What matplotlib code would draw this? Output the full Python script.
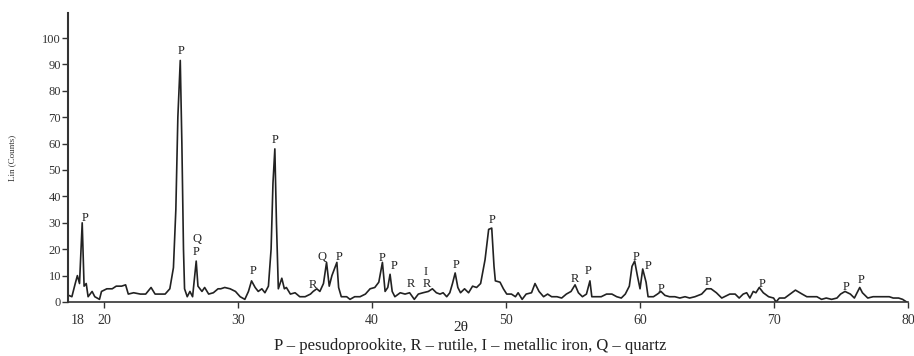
import matplotlib.pyplot as plt

two_theta = [17.31, 17.59, 17.84, 18.0, 18.16, 18.36, 18.5, 18.66, 18.8, 19.1, 19.3, 19.65, 19.8,
             20.2, 20.6, 20.9, 21.3, 21.6, 21.8, 22.2, 22.7, 23.1, 23.5, 23.8, 24.2, 24.55, 24.9,
             25.17, 25.35, 25.5, 25.68, 25.8, 25.92, 26.0, 26.2, 26.4, 26.6, 26.87, 27.0, 27.3,
             27.5, 27.8, 28.15, 28.5, 28.7, 29.0, 29.4, 29.8, 30.15, 30.5, 30.77, 31.0, 31.27,
             31.5, 31.77, 32.0, 32.26, 32.46, 32.6, 32.74, 32.86, 33.0, 33.26, 33.45, 33.6, 33.9,
             34.25, 34.6, 35.0, 35.4, 35.6, 35.87, 36.1, 36.37, 36.6, 36.8, 37.0, 37.37, 37.5,
             37.7, 38.1, 38.35, 38.7, 39.1, 39.5, 39.85, 40.2, 40.5, 40.77, 40.97, 41.17, 41.34,
             41.5, 41.7, 42.1, 42.46, 42.8, 43.15, 43.45, 43.8, 44.2, 44.5, 44.8, 45.07, 45.3,
             45.57, 45.8, 46.0, 46.2, 46.4, 46.6, 46.9, 47.2, 47.5, 47.8, 48.1, 48.43, 48.7,
             48.93, 49.1, 49.2, 49.55, 49.8, 50.05, 50.4, 50.7, 50.9, 51.2, 51.5, 51.9, 52.16,
             52.46, 52.8, 53.1, 53.4, 53.8, 54.15, 54.5, 54.85, 55.15, 55.4, 55.7, 56.0, 56.26,
             56.4, 56.76, 57.1, 57.5, 57.9, 58.26, 58.6, 58.9, 59.2, 59.4, 59.6, 59.8, 60.0,
             60.2, 60.45, 60.6, 61.0, 61.3, 61.56, 61.86, 62.2, 62.6, 62.97, 63.36, 63.7, 64.1,
             64.6, 64.97, 65.3, 65.7, 66.1, 66.3, 66.7, 67.1, 67.4, 67.7, 67.96, 68.2, 68.45,
             68.65, 68.9, 69.2, 69.6, 69.97, 70.15, 70.4, 70.8, 71.2, 71.6, 72.1, 72.45, 72.8,
             73.2, 73.55, 73.9, 74.3, 74.7, 74.97, 75.3, 75.7, 76.0, 76.4, 76.6, 77.0, 77.4,
             77.8, 78.2, 78.6, 78.9, 79.3, 79.6, 79.9]
counts = [2.6, 2, 7, 10, 7, 30, 6, 7, 2, 4, 2, 1, 4,
          5, 5, 6, 6, 6.5, 3, 3.5, 3, 3, 5.5, 3, 3, 3, 5,
          13, 35, 70, 91.5, 60, 20, 5, 2, 4, 2, 15.5, 6, 4,
          5.5, 3, 3.5, 5, 5, 5.5, 5, 4, 2, 1, 4, 8, 5.5,
          4, 5, 3.5, 6, 20, 45, 58, 30, 5, 9, 5, 5.5, 3,
          3.5, 2, 2, 3, 4, 5, 4, 7, 15, 6, 10, 15, 5.5,
          2, 2, 1, 2, 2, 3, 5, 5.5, 7.5, 15, 4, 5.5, 10.5,
          4, 2, 3.5, 3, 3.5, 1, 3, 3.5, 4, 5, 3.5, 3, 3.5,
          2, 3.5, 7, 11, 5.5, 3.5, 5, 3.5, 6, 5.5, 7, 16, 27.5,
          28, 13.5, 8, 7.5, 5, 3, 3, 2, 3.5, 1, 3, 3.5, 7,
          4, 2, 3, 2, 2, 1.5, 3, 4, 6.5, 3.5, 2, 3, 8,
          2, 2, 2, 3, 3, 2, 1.5, 3, 6, 13.5, 15.5, 10, 5,
          12.5, 7.5, 2, 2, 3, 4, 2.5, 2, 2, 1.5, 2, 1.5, 2,
          3, 5, 5, 3.5, 1.5, 2, 3, 3, 1.5, 3, 3.5, 1.5, 4,
          3.5, 5.5, 3.5, 2, 1.5, 0, 1.5, 1.5, 3, 4.5, 3, 2, 2,
          2, 1, 1.5, 1, 1.5, 3, 4, 3, 1.5, 5.5, 3.5, 1.5, 2,
          2, 2, 2, 1.5, 1.5, 1, 0]

# phase labels
label_text = ["P", "P", "Q", "P", "P", "P", "R", "Q", "P", "P", "P", "R", "I", "R",
              "P", "P", "R", "P", "P", "P", "P", "P", "P", "P", "P"]
label_x = [18.6, 25.75, 26.9, 26.87, 31.1, 32.76, 35.6, 36.24, 37.5, 40.77, 41.64, 42.9, 44.0, 44.07,
           46.3, 48.93, 55.15, 56.14, 59.74, 60.6, 61.6, 65.1, 69.1, 75.4, 76.5]
label_y = [32, 95, 24, 19, 11.8, 61.5, 6.6, 17.2, 17.2, 16.8, 13.6, 6.8, 11.2, 6.8,
           13.9, 31, 8.6, 11.8, 17.2, 13.6, 5.1, 7.6, 6.8, 5.8, 8.4]

xticks = [18, 20, 30, 40, 50, 60, 70, 80]
yticks = [0, 10, 20, 30, 40, 50, 60, 70, 80, 90, 100]

plt.rcParams['font.family'] = ['Liberation Serif', 'DejaVu Serif']

fig = plt.figure(figsize=(9.14, 3.56), dpi=100)
ax = fig.add_axes([0.0744, 0.1517, 0.919, 0.812])

ax.plot(two_theta, counts, color='#222222', linewidth=1.2)

for t, x, y in zip(label_text, label_x, label_y):
    ax.text(x, y, t, ha='center', va='center', fontsize=9, color='#222222')

ax.set_xlim(17.3, 80)
ax.set_ylim(0, 109.5)
ax.spines['top'].set_visible(False)
ax.spines['right'].set_visible(False)
ax.spines['left'].set_linewidth(1.5)
ax.spines['bottom'].set_linewidth(1.2)
ax.spines['left'].set_color('#333333')
ax.spines['bottom'].set_color('#333333')

ax.set_xticks(xticks)
ax.set_xticklabels([str(v) for v in xticks])
ax.set_yticks(yticks)
ax.tick_params(axis='x', direction='out', length=4, width=1, pad=5, labelsize=10, colors='#333333')
ax.tick_params(axis='y', direction='out', length=4, width=1, pad=1, labelsize=9, colors='#333333')
ax.get_xticklines()[0].set_visible(False)

ax.set_xlabel("2θ", fontsize=11, color='#222222')
ax.xaxis.set_label_coords(0.468, -0.088)
ax.xaxis.label.set_va('center')
ax.set_ylabel("Lin (Counts)", fontsize=6.5, color='#333333')
ax.yaxis.set_label_coords(-0.062, 0.5)

fig.text(0.515, 0.028, "P – pesudoprookite, R – rutile, I – metallic iron, Q – quartz",
         ha='center', va='center', fontsize=12, color='#222222')

fig.savefig('out.png', dpi=100)
